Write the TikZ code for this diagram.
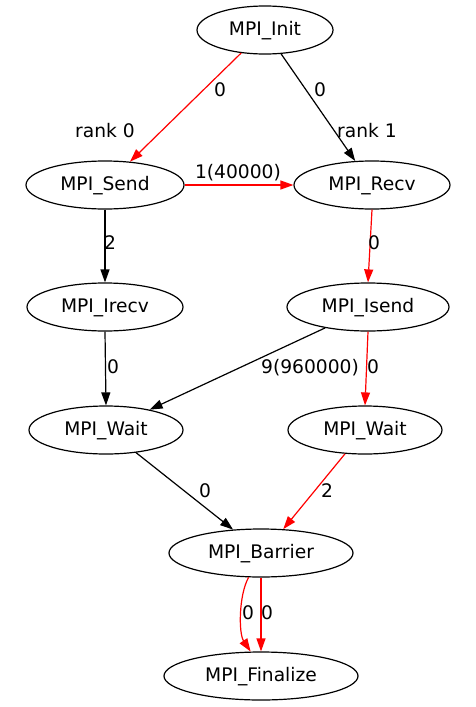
\documentclass[tikz,border=0pt]{standalone}
\usepackage{fontspec}
\setmainfont{DejaVu Sans}
\usetikzlibrary{shapes.geometric,arrows.meta}
\tikzset{
  ell/.style={draw, ellipse, line width=1.2pt, minimum height=48pt, inner sep=0pt, text height=14pt, text depth=4pt},
  lbl/.style={inner sep=0pt, text height=13.6pt, text depth=0pt},
  edg/.style={line width=1.2pt, -{Triangle[length=13pt,width=9pt]}},
  rededge/.style={edg, red},
}
\begin{document}
\begin{tikzpicture}[x=1pt,y=-1pt,font=\fontsize{18.67}{22}\selectfont]
\path[use as bounding box] (0,0) rectangle (476,707);
\node[ell, minimum width=136pt] (init) at (265,30) {MPI\_Init};
\node[ell, minimum width=158pt] (send) at (105,185) {MPI\_Send};
\node[ell, minimum width=156pt] (recv) at (372,185) {MPI\_Recv};
\node[ell, minimum width=156pt] (irecv) at (105,307) {MPI\_Irecv};
\node[ell, minimum width=162pt] (isend) at (368,307) {MPI\_Isend};
\node[ell, minimum width=154pt] (waitl) at (106,430) {MPI\_Wait};
\node[ell, minimum width=154pt] (waitr) at (365,430) {MPI\_Wait};
\node[ell, minimum width=184pt] (barrier) at (261,553) {MPI\_Barrier};
\node[ell, minimum width=194pt] (finalize) at (261,676) {MPI\_Finalize};

\draw[rededge] (init.-136) -- (send.43);
\draw[edg] (init.-56) -- (recv.125);
\draw[rededge] (send.east) -- (recv.west);
\draw[edg] (send.south) -- (irecv.north);
\draw[rededge] (recv.south) -- (isend.north);
\draw[edg] (irecv.south) -- (waitl.north);
\draw[edg] (isend.-154) -- (waitl.25);
\draw[rededge] (isend.south) -- (waitr.north);
\draw[edg] (waitl.-37) -- (barrier.140);
\draw[rededge] (waitr.-130) -- (barrier.47);
\draw[rededge] (barrier.-117) .. controls +(-10,18) and +(-12,-18) .. (finalize.113);
\draw[rededge] (barrier.south) -- (finalize.north);

\node[lbl] (l1) at (220,90) {0};
\node[lbl] (l2) at (320,90) {0};
\node[lbl] (r0) at (105,131) {rank 0};
\node[lbl] (r1) at (367,131) {rank 1};
\node[lbl] (l3) at (238,172) {1(40000)};
\node[lbl] (l4) at (110,243) {2};
\node[lbl] (l5) at (374,243) {0};
\node[lbl] (l6) at (113,367) {0};
\node[lbl] (l7) at (310,367) {9(960000)};
\node[lbl] (l8) at (373,367) {0};
\node[lbl] (l9) at (205,491) {0};
\node[lbl] (l10) at (327,491) {2};
\node[lbl] (l11) at (248,613) {0};
\node[lbl] (l12) at (267,613) {0};
\end{tikzpicture}
\end{document}
